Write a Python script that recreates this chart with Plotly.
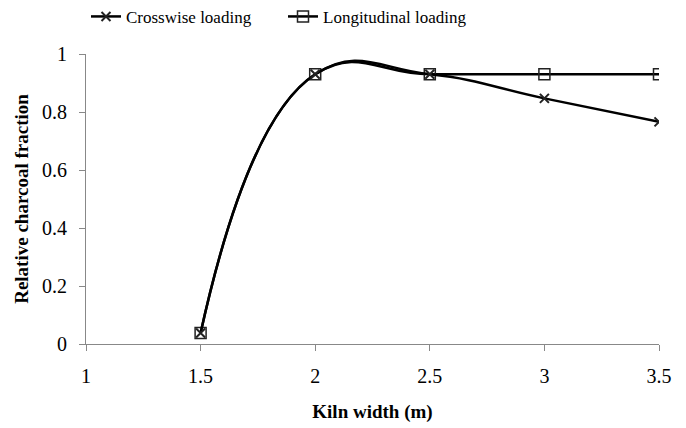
import plotly.graph_objects as go

kiln_width = [1.5, 2, 2.5, 3, 3.5]
crosswise = [0.038, 0.93, 0.93, 0.847, 0.766]
longitudinal = [0.038, 0.93, 0.93, 0.93, 0.93]

fig = go.Figure()
fig.add_trace(go.Scatter(
    x=kiln_width, y=longitudinal, name="Longitudinal loading",
    mode="lines+markers", line=dict(color="black", width=2.5, shape="spline", smoothing=1.3),
    marker=dict(symbol="square-open", size=11, color="#222222", line=dict(width=1.5)),
    legendrank=2,
))
fig.add_trace(go.Scatter(
    x=kiln_width, y=crosswise, name="Crosswise loading",
    mode="lines+markers", line=dict(color="black", width=2.5, shape="spline", smoothing=1.3),
    marker=dict(symbol="x-thin", size=9, color="#222222", line=dict(width=2, color="#222222")),
    legendrank=1,
))

font = dict(family="Liberation Serif", color="black")
fig.update_layout(
    width=686, height=428,
    margin=dict(l=86, r=27, t=54, b=84, autoexpand=False),
    paper_bgcolor="white", plot_bgcolor="white",
    font=dict(size=20, **font),
    showlegend=True,
    legend=dict(orientation="h", x=0.0, xanchor="left", y=1.128, yanchor="middle",
                font=dict(size=17, **font), itemwidth=30, traceorder="normal",
                entrywidth=152, entrywidthmode="pixels"),
    xaxis=dict(range=[1, 3.5], tickvals=[1, 1.5, 2, 2.5, 3, 3.5],
               showgrid=False, zeroline=False, showline=True, linecolor="#888888",
               ticks="outside", tickcolor="#888888", ticklen=6, ticklabelstandoff=8,
               tickfont=dict(size=20, **font),
               title=dict(text="<b>Kiln width (m)</b>", font=dict(size=19, **font), standoff=18)),
    yaxis=dict(range=[0, 1], tickvals=[0, 0.2, 0.4, 0.6, 0.8, 1],
               showgrid=False, zeroline=False, showline=True, linecolor="#888888",
               ticks="outside", tickcolor="#888888", ticklen=6, ticklabelstandoff=8,
               tickfont=dict(size=20, **font),
               title=dict(text="<b>Relative charcoal fraction</b>", font=dict(size=19, **font), standoff=8)),
)
fig.write_html("out.html")
